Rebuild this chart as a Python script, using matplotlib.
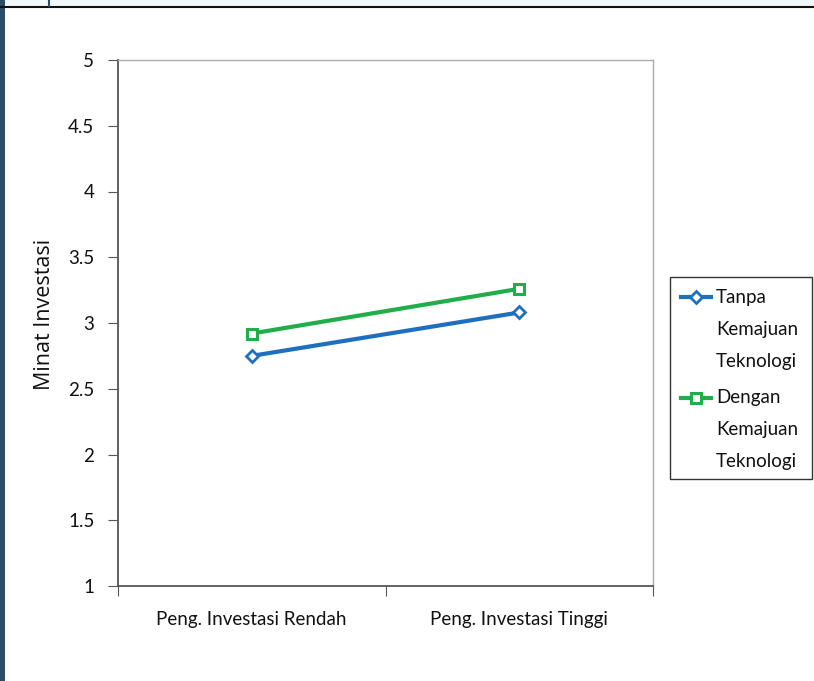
import matplotlib
matplotlib.use("Agg")
import matplotlib.pyplot as plt
from matplotlib.patches import Rectangle
from matplotlib.lines import Line2D

categories = ["Peng. Investasi Rendah", "Peng. Investasi Tinggi"]
tanpa = [2.75, 3.08]
dengan = [2.92, 3.26]
series_labels = ["Tanpa\nKemajuan\nTeknologi", "Dengan\nKemajuan\nTeknologi"]
yticks = [1, 1.5, 2, 2.5, 3, 3.5, 4, 4.5, 5]
ytick_labels = ["1", "1.5", "2", "2.5", "3", "3.5", "4", "4.5", "5"]
y_title = "Minat Investasi"

plt.rcParams['font.family'] = ['Lato', 'DejaVu Sans']
FS = 13.5
TXT = "#111111"
W, H = 814, 681
fig = plt.figure(figsize=(W/100, H/100), dpi=100)
fig.patch.set_facecolor("white")

def fx(px):
    return px / W

def fy(py):
    return 1 - py / H

# decorative frame of the slide
fig.add_artist(Rectangle((0, fy(6)), 1, 6/H, transform=fig.transFigure,
                         facecolor="#f2f7fa", edgecolor="none"))
fig.add_artist(Line2D([0, 1], [fy(6.5), fy(6.5)], transform=fig.transFigure,
                      color="#111111", lw=1.5))
fig.add_artist(Rectangle((0, 0), 5/W, 1, transform=fig.transFigure,
                         facecolor="#2b4d66", edgecolor="none"))
fig.add_artist(Line2D([fx(49), fx(49)], [fy(6), 1], transform=fig.transFigure,
                      color="#2b4d66", lw=1.5))

ax = fig.add_axes([fx(118), fy(586), (653-118)/W, (586-60)/H])
x = [0, 1]
styles = [
    dict(color="#1f6fc0", marker="D", ms=6, mew=2),
    dict(color="#1fae4a", marker="s", ms=7, mew=2.2),
]
for vals, st in zip([tanpa, dengan], styles):
    ax.plot(x, vals, color=st["color"], lw=3, marker=st["marker"], ms=st["ms"],
            mfc="white", mec=st["color"], mew=st["mew"])

ax.set_xlim(-0.5, 1.5)
ax.set_ylim(1, 5)
ax.set_yticks(yticks)
ax.set_yticklabels(ytick_labels, fontsize=FS, color=TXT)
ax.set_xticks([-0.5, 0.5, 1.5])
ax.set_xticklabels(["", "", ""])
ax.set_xticks(x, minor=True)
ax.set_xticklabels(categories, minor=True, fontsize=FS, color=TXT)
ax.tick_params(axis="x", which="minor", length=0, pad=18)
ax.tick_params(axis="x", which="major", length=7, direction="out", color="#555555")
ax.tick_params(axis="y", length=7, direction="out", color="#555555", pad=10)

fig.text(fx(44.5), fy(314), y_title, rotation=90, ha="center", va="center",
         fontsize=15.5, color=TXT, family=["Open Sans", "DejaVu Sans"])

for s in ["left", "bottom"]:
    ax.spines[s].set_color("#555555")
    ax.spines[s].set_linewidth(1.3)
for s in ["top", "right"]:
    ax.spines[s].set_color("#aaaaaa")
    ax.spines[s].set_linewidth(1.0)

# legend drawn by hand (handle aligned with the first text line)
fig.add_artist(Rectangle((fx(670), fy(479)), (812-670)/W, (479-277)/H,
                         transform=fig.transFigure, facecolor="white",
                         edgecolor="#333333", lw=1.0))
for lab, st, ytop in zip(series_labels, styles, [297, 398]):
    fig.add_artist(Line2D([fx(681), fx(711)], [fy(ytop), fy(ytop)],
                          transform=fig.transFigure, color=st["color"], lw=3))
    fig.add_artist(Line2D([fx(696)], [fy(ytop)], transform=fig.transFigure,
                          marker=st["marker"], ms=st["ms"], mfc="white",
                          mec=st["color"], mew=st["mew"], color=st["color"]))
    for i, line in enumerate(lab.split("\n")):
        fig.text(fx(716), fy(ytop + i * 32), line, fontsize=FS, color=TXT,
                 ha="left", va="center")

fig.savefig("out.png", dpi=100)
